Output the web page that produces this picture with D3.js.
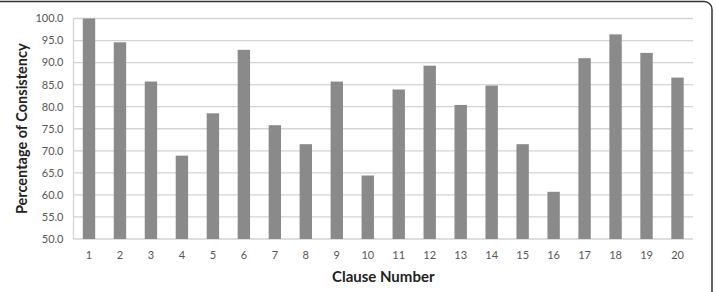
<!DOCTYPE html>
<html>
<head>
<meta charset="utf-8">
<script src="https://cdn.jsdelivr.net/npm/d3@7"></script>
<style>
  body { margin: 0; background: #fff; }
  text { font-family: Lato, "Open Sans", sans-serif; }
</style>
</head>
<body>
<div class="canva"></div>
<script>
// clause numbers and consistency values
const clauses = d3.range(1, 21).map(String);
const consistency = [100.0, 94.6, 85.7, 68.9, 78.5, 92.9, 75.8, 71.5, 85.7, 64.4,
                     83.9, 89.3, 80.4, 84.8, 71.5, 60.7, 91.0, 96.4, 92.2, 86.6];
const yTicks = d3.range(50, 100.1, 5);

const width = 717, height = 292;
const margin = {top: 18.5, right: 24, bottom: 53, left: 73.5};

const svg = d3.select(".canva").append("svg")
  .attr("width", width)
  .attr("height", height);

// rounded frame
svg.append("rect")
  .attr("x", -10).attr("y", 1.5)
  .attr("width", 722).attr("height", 320)
  .attr("rx", 8)
  .attr("fill", "#fff")
  .attr("stroke", "#333")
  .attr("stroke-width", 1.5);

const x = d3.scaleBand()
  .domain(clauses)
  .range([margin.left, width - margin.right])
  .paddingInner(0.6)
  .paddingOuter(0.3);

const y = d3.scaleLinear()
  .domain([50, 100])
  .range([height - margin.bottom, margin.top]);

// gridlines
svg.append("g")
  .selectAll("line")
  .data(yTicks)
  .join("line")
    .attr("x1", margin.left)
    .attr("x2", width - margin.right)
    .attr("y1", d => y(d))
    .attr("y2", d => y(d))
    .attr("stroke", "#d4d4d4")
    .attr("stroke-width", 1.3);

// y axis line
svg.append("line")
  .attr("x1", margin.left).attr("x2", margin.left)
  .attr("y1", y(50)).attr("y2", y(100))
  .attr("stroke", "#d4d4d4")
  .attr("stroke-width", 1.3);

// bars
svg.append("g")
  .selectAll("rect")
  .data(consistency)
  .join("rect")
    .attr("x", (d, i) => x(clauses[i]))
    .attr("y", d => y(d))
    .attr("width", x.bandwidth())
    .attr("height", d => y(50) - y(d))
    .attr("fill", "#8a8a8a");

// y tick labels
svg.append("g")
  .selectAll("text")
  .data(yTicks)
  .join("text")
    .attr("x", margin.left - 10)
    .attr("y", d => y(d))
    .attr("dy", "0.35em")
    .attr("text-anchor", "end")
    .attr("font-size", 11)
    .attr("fill", "#555")
    .text(d => d.toFixed(1));

// x tick labels
svg.append("g")
  .selectAll("text")
  .data(clauses)
  .join("text")
    .attr("x", d => x(d) + x.bandwidth() / 2)
    .attr("y", y(50) + 16)
    .attr("dy", "0.35em")
    .attr("text-anchor", "middle")
    .attr("font-size", 11)
    .attr("fill", "#555")
    .text(d => d);

// axis titles
svg.append("text")
  .attr("x", (margin.left + width - margin.right) / 2)
  .attr("y", 277)
  .attr("dy", "0.35em")
  .attr("text-anchor", "middle")
  .attr("font-size", 15)
  .attr("font-weight", "bold")
  .attr("fill", "#222")
  .text("Clause Number");

svg.append("text")
  .attr("transform", `translate(22, ${(y(50) + y(100)) / 2}) rotate(-90)`)
  .attr("dy", "0.35em")
  .attr("text-anchor", "middle")
  .attr("font-size", 14.5)
  .attr("font-weight", "bold")
  .attr("fill", "#222")
  .text("Percentage of Consistency");
</script>
</body>
</html>
